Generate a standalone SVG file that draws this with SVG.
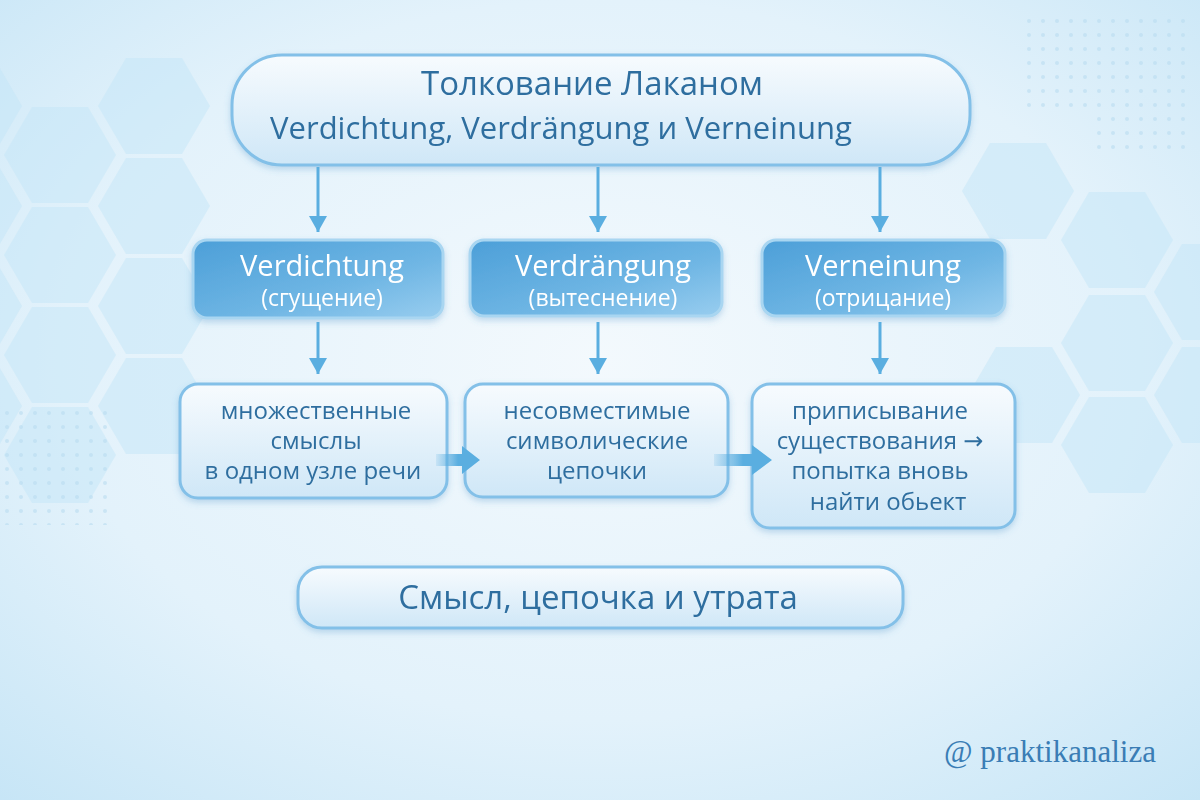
<svg xmlns="http://www.w3.org/2000/svg" width="1200" height="800" viewBox="0 0 1200 800">
<defs>
<radialGradient id="bg" cx="0.5" cy="0.45" r="0.75">
<stop offset="0" stop-color="#f3f9fd"/>
<stop offset="0.6" stop-color="#e3f2fb"/>
<stop offset="1" stop-color="#c6e5f6"/>
</radialGradient>
<linearGradient id="light" x1="0" y1="0" x2="0" y2="1">
<stop offset="0" stop-color="#f7fbfe"/>
<stop offset="1" stop-color="#cfe7f7"/>
</linearGradient>
<linearGradient id="mid" x1="0" y1="0" x2="1" y2="1">
<stop offset="0" stop-color="#4c9fd8"/>
<stop offset="0.6" stop-color="#6fb6e4"/>
<stop offset="1" stop-color="#98cdef"/>
</linearGradient>
<linearGradient id="blk" x1="0" y1="0" x2="1" y2="0">
<stop offset="0" stop-color="#5aaee0" stop-opacity="0.15"/>
<stop offset="0.5" stop-color="#5aaee0"/>
<stop offset="1" stop-color="#5aaee0"/>
</linearGradient>
<filter id="sh" x="-10%" y="-20%" width="120%" height="150%">
<feDropShadow dx="0" dy="3" stdDeviation="3" flood-color="#4a8fc4" flood-opacity="0.3"/>
</filter>
<polygon id="hex" points="-56,0 -28,-48 28,-48 56,0 28,48 -28,48"/>
<pattern id="dots" width="14" height="14" patternUnits="userSpaceOnUse">
<circle cx="7" cy="7" r="2" fill="#b9dcf0"/>
</pattern>
<marker id="ah" markerWidth="16" markerHeight="18" viewBox="0 0 16 18" refX="16" refY="9" orient="auto" markerUnits="userSpaceOnUse">
<path d="M0,0 L16,9 L0,18 Z" fill="#5aaee0"/>
</marker>
</defs>
<style>
.t{font-family:"Open Sans","Noto Sans","DejaVu Sans",sans-serif;text-anchor:middle}
.dark{fill:#2f6e9f}
.white{fill:#ffffff}
.lb{fill:url(#light);stroke:#83c0e8;stroke-width:3}
.mb{fill:url(#mid);stroke:#a9d6f1;stroke-width:3}
.hx{fill:#c4e6f7;opacity:0.5}
.ln{stroke:#5aaee0;stroke-width:3;fill:none}
</style>
<rect width="1200" height="800" fill="url(#bg)"/>
<g id="background">
<use href="#hex" class="hx" x="154" y="106" opacity="0.5"/>
<use href="#hex" class="hx" x="154" y="206"/>
<use href="#hex" class="hx" x="154" y="306"/>
<use href="#hex" class="hx" x="154" y="406" opacity="0.35"/>
<use href="#hex" class="hx" x="60" y="155"/>
<use href="#hex" class="hx" x="60" y="255"/>
<use href="#hex" class="hx" x="60" y="355"/>
<use href="#hex" class="hx" x="60" y="455" opacity="0.4"/>
<use href="#hex" class="hx" x="-34" y="106"/>
<use href="#hex" class="hx" x="-34" y="206"/>
<use href="#hex" class="hx" x="-34" y="306"/>
<use href="#hex" class="hx" x="-34" y="406"/>
<rect x="0" y="410" width="110" height="115" fill="url(#dots)" opacity="0.6"/>
<use href="#hex" class="hx" x="1018" y="191" opacity="0.35"/>
<use href="#hex" class="hx" x="1117" y="240"/>
<use href="#hex" class="hx" x="1117" y="343"/>
<use href="#hex" class="hx" x="1117" y="445" opacity="0.45"/>
<use href="#hex" class="hx" x="1210" y="292"/>
<use href="#hex" class="hx" x="1210" y="395"/>
<use href="#hex" class="hx" x="1024" y="395" opacity="0.3"/>
<rect x="1022" y="18" width="172" height="95" fill="url(#dots)" opacity="0.6"/>
<rect x="1092" y="113" width="102" height="45" fill="url(#dots)" opacity="0.6"/>
</g>
<g id="title" filter="url(#sh)">
<rect class="lb" x="232" y="55" width="738" height="110" rx="50"/>
<text class="t dark" x="592" y="95" font-size="33">Толкование Лаканом</text>
<text class="t dark" x="561" y="139" font-size="31">Verdichtung, Verdrängung и Verneinung</text>
</g>
<g id="verdichtung" filter="url(#sh)">
<rect class="mb" x="193" y="240" width="250" height="78" rx="14"/>
<text class="t white" x="322" y="276" font-size="29">Verdichtung</text>
<text class="t white" x="322" y="306" font-size="23">(сгущение)</text>
</g>
<g id="verdraengung" filter="url(#sh)">
<rect class="mb" x="470" y="240" width="252" height="76" rx="14"/>
<text class="t white" x="603" y="276" font-size="29">Verdrängung</text>
<text class="t white" x="603" y="306" font-size="23">(вытеснение)</text>
</g>
<g id="verneinung" filter="url(#sh)">
<rect class="mb" x="762" y="240" width="243" height="76" rx="14"/>
<text class="t white" x="883" y="276" font-size="29">Verneinung</text>
<text class="t white" x="883" y="306" font-size="23">(отрицание)</text>
</g>
<g id="box1" filter="url(#sh)">
<rect class="lb" x="180" y="384" width="267" height="114" rx="18"/>
<text class="t dark" x="316" y="419" font-size="24">множественные</text>
<text class="t dark" x="316" y="449" font-size="24">смыслы</text>
<text class="t dark" x="313" y="479" font-size="24">в одном узле речи</text>
</g>
<g id="box2" filter="url(#sh)">
<rect class="lb" x="465" y="384" width="263" height="113" rx="18"/>
<text class="t dark" x="597" y="419" font-size="24">несовместимые</text>
<text class="t dark" x="597" y="449" font-size="24">символические</text>
<text class="t dark" x="597" y="479" font-size="24">цепочки</text>
</g>
<g id="box3" filter="url(#sh)">
<rect class="lb" x="752" y="384" width="263" height="144" rx="18"/>
<text class="t dark" x="880" y="419" font-size="24">приписывание</text>
<text class="t dark" x="880" y="449" font-size="24">существования →</text>
<text class="t dark" x="880" y="479" font-size="24">попытка вновь</text>
<text class="t dark" x="888" y="510" font-size="24">найти обьект</text>
</g>
<g id="summary" filter="url(#sh)">
<rect class="lb" x="298" y="567" width="605" height="61" rx="24"/>
<text class="t dark" x="598" y="609" font-size="33">Смысл, цепочка и утрата</text>
</g>
<g id="connectors">
<line class="ln" x1="318" y1="167" x2="318" y2="232" marker-end="url(#ah)"/>
<line class="ln" x1="598" y1="167" x2="598" y2="232" marker-end="url(#ah)"/>
<line class="ln" x1="880" y1="167" x2="880" y2="232" marker-end="url(#ah)"/>
<line class="ln" x1="318" y1="322" x2="318" y2="374" marker-end="url(#ah)"/>
<line class="ln" x1="598" y1="322" x2="598" y2="374" marker-end="url(#ah)"/>
<line class="ln" x1="880" y1="322" x2="880" y2="374" marker-end="url(#ah)"/>
<path d="M436,454 L462,454 L462,446 L480,460 L462,474 L462,466 L436,466 Z" fill="url(#blk)"/>
<path d="M714,454 L752,454 L752,445 L772,460 L752,475 L752,466 L714,466 Z" fill="url(#blk)"/>
</g>
<text x="1050" y="762" font-family="Liberation Serif, DejaVu Serif, serif" font-size="31" fill="#3a7db5" text-anchor="middle">@ praktikanaliza</text>
</svg>
